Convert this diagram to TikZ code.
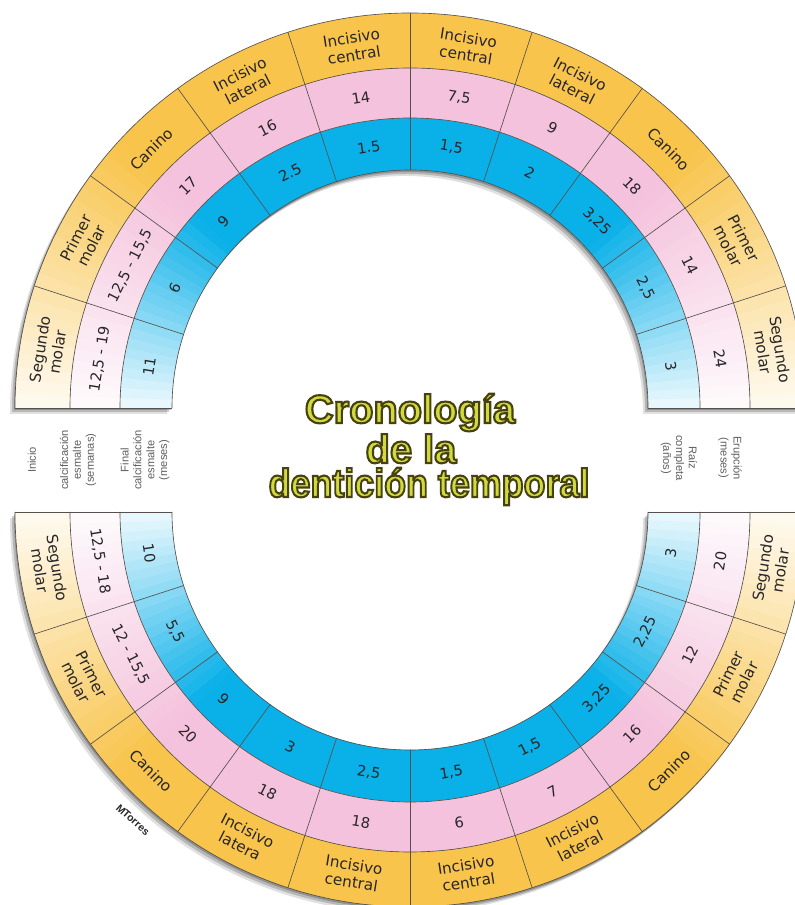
\documentclass[tikz,border=0pt]{standalone}
\usepackage{fontspec}
\usepackage{graphicx}
\setmainfont{DejaVu Sans}
\newfontfamily\titlefont{Liberation Sans}
\newfontfamily\notefont{Liberation Sans}
\usetikzlibrary{calc}
\definecolor{bandyellow}{RGB}{248,196,76}
\definecolor{bandpink}{RGB}{244,194,220}
\definecolor{bandblue}{RGB}{10,176,232}
\definecolor{linegrey}{RGB}{85,80,75}
\definecolor{notegrey}{RGB}{95,95,95}
\definecolor{inkdark}{RGB}{40,38,40}
\definecolor{titlefill}{RGB}{208,218,62}
\tikzset{
  ringline/.style={draw=linegrey, line width=0.55pt},
  toothtext/.style={font=\fontsize{13}{15}\selectfont, align=center, inner sep=0pt, text=inkdark},
  numtext/.style={font=\fontsize{12.5}{14}\selectfont, inner sep=0pt, text=inkdark},
  sidenote/.style={font=\notefont\fontsize{9.5}{11}\selectfont, text=notegrey, align=center, inner sep=0pt},
  titletext/.style={font=\titlefont\bfseries\fontsize{34}{38}\selectfont, inner sep=0pt, anchor=base, text=titlefill}
}
% outlined letters (fill + dark stroke)
\newcommand{\outlined}[1]{\special{pdf:literal q 2 Tr 1.8 w 0.28 0.26 0.05 RG}#1\special{pdf:literal Q}}
% half ring: #1 centre, #2 start angle
\newcommand{\halfring}[2]{%
  \begin{scope}[shift={(#1)}]
    \foreach \dx/\dy/\op in {-1/-2/0.22,-3/-4/0.18,-5/-6/0.12}
      \fill[black, opacity=\op, shift={(\dx,\dy)}] (#2:238) arc[start angle=#2, end angle=#2+180, radius=238]
        -- ({#2+180}:395) arc[start angle=#2+180, end angle=#2, radius=395] -- cycle;
    \foreach \o in {0,2,...,178}{
      \pgfmathsetmacro\aa{#2+\o}
      \pgfmathsetmacro\bb{#2+min(\o+2.4,180)}
      \pgfmathtruncatemacro\p{min(100,8+2.2*min(\o+1,179-\o))}
      \fill[bandblue!\p!white] (\aa:238) arc[start angle=\aa, end angle=\bb, radius=238]
        -- (\bb:290) arc[start angle=\bb, end angle=\aa, radius=290] -- cycle;
      \fill[bandpink!\p!white] (\aa:290) arc[start angle=\aa, end angle=\bb, radius=290]
        -- (\bb:340) arc[start angle=\bb, end angle=\aa, radius=340] -- cycle;
      \fill[bandyellow!\p!white] (\aa:340) arc[start angle=\aa, end angle=\bb, radius=340]
        -- (\bb:395) arc[start angle=\bb, end angle=\aa, radius=395] -- cycle;
    }
    \foreach \r in {238,290,340,395}
      \draw[ringline] (#2:\r) arc[start angle=#2, end angle=#2+180, radius=\r];
    \foreach \k in {0,...,10}
      \draw[ringline] ({#2+18*\k}:238) -- ({#2+18*\k}:395);
  \end{scope}}

\begin{document}
\begin{tikzpicture}[x=0.03cm, y=0.03cm]
  \useasboundingbox (0,0) rectangle (795,905);
  \fill[white] (0,0) rectangle (795,905);
  \begin{scope}
    \clip (0,0) rectangle (795,905);
    \halfring{410,497}{0}
    \halfring{410,393}{180}

    % upper half, from the left
    \begin{scope}[shift={(410,497)}]
      \foreach \tooth/\start/\final [count=\k] in {%
          {Segundo\\molar}/{12,5 - 19}/11,
          {Primer\\molar}/{12,5 - 15,5}/6,
          Canino/17/9,
          {Incisivo\\lateral}/16/2.5,
          {Incisivo\\central}/14/1.5,
          {Incisivo\\central}/{7,5}/{1,5},
          {Incisivo\\lateral}/9/2,
          Canino/18/{3,25},
          {Primer\\molar}/14/{2,5},
          {Segundo\\molar}/24/3}{
        \pgfmathsetmacro\t{189-18*\k}
        \node[toothtext, rotate=\t-90] (upt\k) at (\t:366) {\tooth};
        \node[numtext, rotate=\t-90] (upp\k) at (\t:314) {\start};
        \node[numtext, rotate=\t-90] (upb\k) at (\t:264) {\final};
      }
    \end{scope}

    % lower half, from the left
    \begin{scope}[shift={(410,393)}]
      \foreach \tooth/\start/\final [count=\k] in {%
          {Segundo\\molar}/{12,5 - 18}/10,
          {Primer\\molar}/{12 - 15,5}/{5,5},
          Canino/20/9,
          {Incisivo\\latera}/18/3,
          {Incisivo\\central}/18/{2,5},
          {Incisivo\\central}/6/{1,5},
          {Incisivo\\lateral}/7/{1,5},
          Canino/16/{3,25},
          {Primer\\molar}/12/{2,25},
          {Segundo\\molar}/20/3}{
        \pgfmathsetmacro\t{171+18*\k}
        \node[toothtext, rotate=\t+90] (lot\k) at (\t:366) {\tooth};
        \node[numtext, rotate=\t+90] (lop\k) at (\t:314) {\start};
        \node[numtext, rotate=\t+90] (lob\k) at (\t:264) {\final};
      }
    \end{scope}
  \end{scope}

  % row captions
  \node[sidenote, rotate=90] (inicio) at (32,445) {Inicio};
  \node[sidenote, rotate=90] (semanas) at (78,445) {calcificación\\esmalte\\(semanas)};
  \node[sidenote, rotate=90] (final) at (145,445) {Final\\calcificación\\esmalte\\(meses)};
  \node[sidenote, rotate=-90] (raiz) at (679,447) {Raíz\\completa\\(años)};
  \node[sidenote, rotate=-90] (erupcion) at (730,447) {Erupción\\(meses)};

  % title
  \node[titletext] (title1) at (410,482) {\outlined{Cronología}};
  \node[titletext] (title2) at (411,442) {\outlined{de la}};
  \node[titletext] (title3) at (429,408) {\outlined{\scalebox{0.9}[1]{dentición temporal}}};

  \node[font=\notefont\bfseries\fontsize{9}{10}\selectfont, text=inkdark, rotate=-42] (sign) at (133,85) {MTorres};
\end{tikzpicture}
\end{document}
